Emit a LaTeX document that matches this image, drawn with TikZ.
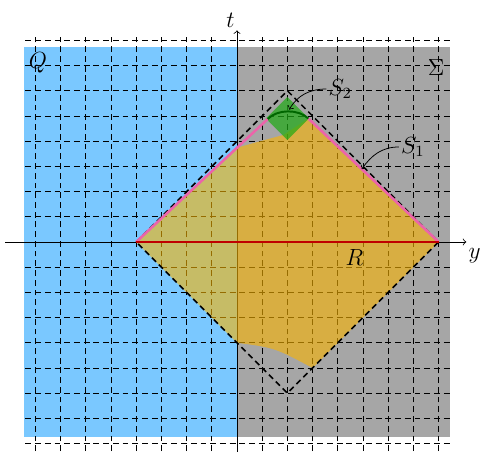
\documentclass[tikz,border=0pt]{standalone}
\usetikzlibrary{calc}
\definecolor{qblue}{RGB}{122,200,255}
\definecolor{sgray}{RGB}{166,166,166}
\definecolor{ryellow}{RGB}{250,180,0}
\definecolor{spink}{RGB}{236,100,170}
\definecolor{sgreen}{RGB}{30,170,20}
\tikzset{lab/.style={font=\large}}
\begin{document}
\begin{tikzpicture}[scale=0.455, >=to]
  \useasboundingbox (-9.405,-8.333) rectangle (9.683,9.603);

  % --- 1. 領域 Q, Sigma ---
  \fill[qblue] (-8.45,-7.75) rectangle (0,7.75);
  \fill[sgray] (0,-7.75) rectangle (8.45,7.75);

  % --- 2. 格子 (破線) ---
  \draw[densely dashed, thin] (-8.4,-8.3) grid (8.45,8.3);

  % --- 3. 座標軸 ---
  \draw[->, thin] (-9.2,0) -- (9.1,0) node[below right, inner sep=1pt, yshift=-2pt, lab] (ylab) {$y$};
  \draw[->, thin] (0,-8.4) -- (0,8.4) node[above left, inner sep=1pt, lab] (tlab) {$t$};

  % --- 4. 点の設定 ---
  \coordinate (A) at (-4,0);
  \coordinate (B) at (8,0);
  \coordinate (T) at (2,6);
  \coordinate (D) at (2,-6);
  \coordinate (P1) at (1.22,4.88);
  \coordinate (P2) at (2.83,4.9);

  % --- 5. 領域 (黄) と 小さな菱形 (緑) ---
  \fill[ryellow, opacity=0.6] (A) -- (0,-4) .. controls (1.5,-4.2) .. (3,-5) -- (B)
    -- (P2) -- (1.85,4.25) .. controls (1,4.02) .. (0,3.74) -- cycle;
  \fill[sgreen, opacity=0.7] (2,5.75) -- (2.85,4.9) -- (2,4.05) -- (1.15,4.9) -- cycle;

  % --- 6. 菱形 (太い破線) ---
  \draw[thick, densely dashed] (A) -- (T) -- (B) -- (D) -- cycle;

  % --- 7. 曲線 S_1, S_2 と 線分 R ---
  \draw[spink, line width=1.3pt] (A) -- (P1);
  \draw[spink, line width=1.3pt] (P2) -- (B);
  \draw[red!75!black, line width=1.3pt] (A) -- (B);
  \draw[green!40!black, line width=1pt] (P1) .. controls (1.6,5.28) and (2.45,5.28) .. (P2);

  % --- 8. ラベル ---
  \node[lab] (Qlab) at (-7.9,7.12) {$Q$};
  \node[lab] (Siglab) at (7.9,6.94) {$\Sigma$};
  \node[lab] (Rlab) at (4.66,-0.6) {$R$};
  \node[lab, inner sep=1pt] (S2lab) at (4.1,6.07) {$S_2$};
  \node[lab, inner sep=1pt] (S1lab) at (6.98,3.77) {$S_1$};

  \coordinate (S2pt) at (2.07,5.25);
  \coordinate (S1pt) at ($(P2)!0.41!(B)$);
  \draw[->] (S2lab.west) to[out=180, in=60] (S2pt);
  \draw[->] (S1lab.west) to[out=180, in=55] (S1pt);

\end{tikzpicture}
\end{document}
